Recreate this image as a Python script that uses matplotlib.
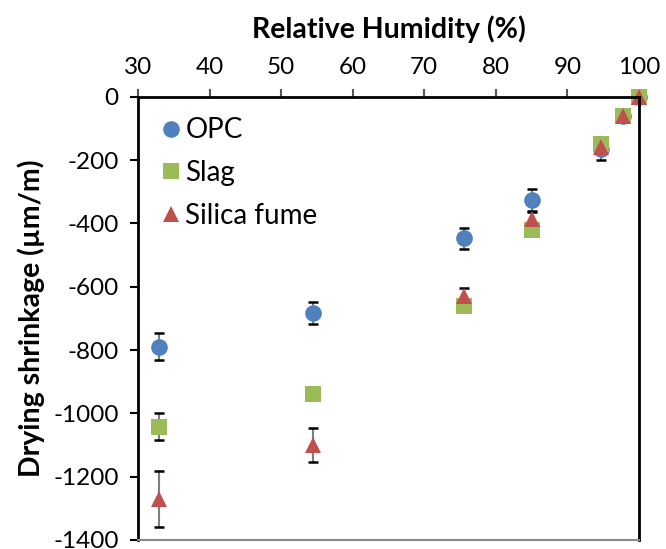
import matplotlib.pyplot as plt
from matplotlib.lines import Line2D

plt.rcParams['font.family'] = ['Lato', 'DejaVu Sans']
plt.rcParams['axes.unicode_minus'] = False

# 相对湿度 (%)
rh = [33.0, 54.4, 75.5, 85.0, 94.7, 97.7, 100.0]

# 干燥收缩 (µm/m)
opc = [-790, -683, -447, -327, -165, -60, 0]
opc_err = [43, 35, 33, 37, 35, 8, 0]
slag = [-1042, -940, -660, -420, -148, -60, 0]
slag_err = [43, 0, 0, 0, 0, 0, 0]
sf = [-1270, -1100, -630, -385, -158, -62, 0]
sf_err = [88, 53, 25, 25, 20, 8, 0]

series = [
    ("OPC", opc, opc_err, "o", "#4F81BD"),
    ("Slag", slag, slag_err, "s", "#9BBB59"),
    ("Silica fume", sf, sf_err, "^", "#C0504D"),
]

fig = plt.figure(figsize=(6.66, 5.49), dpi=100)
ax = fig.add_axes([138 / 666, 1 - 540 / 549, (639 - 138) / 666, (540 - 96.7) / 549])

handles = []
for name, vals, err, mk, color in series:
    line, caps, bars = ax.errorbar(rh, vals, yerr=err, fmt=mk, color=color, markersize=12,
                                   ecolor="#7f7f7f", elinewidth=1.5, capsize=3.5,
                                   markeredgewidth=0, clip_on=False)
    # 误差棒端帽用黑色
    for c in caps:
        c.set_markeredgecolor("black")
        c.set_markeredgewidth(1.8)
        c.set_clip_on(False)
    for b in bars:
        b.set_clip_on(False)
    handles.append(Line2D([], [], marker=mk, color=color, linestyle="none",
                          markersize=12, markeredgewidth=0, label=name))

# 坐标轴
ax.set_xlim(30, 100)
ax.set_ylim(-1400, 0)
ax.set_xticks(range(30, 101, 10))
ax.set_yticks(range(-1400, 1, 200))
ax.xaxis.tick_top()
ax.xaxis.set_label_position("top")
ax.tick_params(axis="x", direction="out", length=6, width=1.5, labelsize=17.5, pad=7.5, color="#555555")
ax.tick_params(axis="y", direction="out", length=6, width=1.5, labelsize=17.5, pad=8)

for s in ["top", "left", "right"]:
    ax.spines[s].set_linewidth(2)
    ax.spines[s].set_color("black")
ax.spines["bottom"].set_linewidth(1.5)
ax.spines["bottom"].set_color("#888888")

ax.set_xlabel("Relative Humidity (%)", fontsize=20.5, fontweight="bold", labelpad=14)
ax.set_ylabel("Drying shrinkage (µm/m)", fontsize=20.5, fontweight="bold", labelpad=6)

# 图例
ax.legend(handles=handles, loc="upper left", bbox_to_anchor=(0.003, 1.01), frameon=False,
          fontsize=20, handlelength=0.5, handletextpad=0.25, labelspacing=0.6, numpoints=1)

plt.savefig("out.png", dpi=100)
